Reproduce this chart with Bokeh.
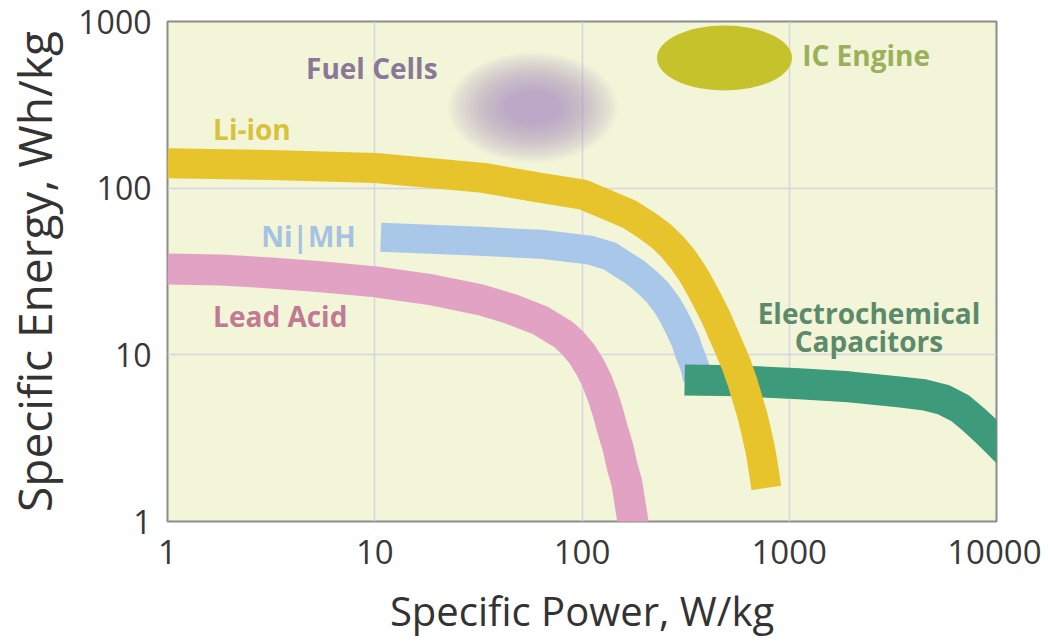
from bokeh.plotting import figure
from bokeh.models import FixedTicker, PrintfTickFormatter
from bokeh.core.properties import value
from bokeh.embed import file_html
from bokeh.resources import INLINE

# ---- data (Specific Power W/kg, Specific Energy Wh/kg) ----
li_power = [1, 3.16, 10.1, 33.4, 62.8, 101, 131.8, 170.1, 205.3, 242.4, 273.8, 305.9,
            337.9, 369.3, 403.5, 440.9, 476.4, 514.6, 556.2, 594.3, 628.1, 663.9,
            693.9, 725.4, 749.9, 775.2]
li_energy = [141, 137.7, 132.2, 115.3, 100.6, 91.4, 79.7, 69.5, 59.8, 51.4, 44.3, 37.5,
             31.4, 25.95, 21.1, 16.98, 13.6, 10.96, 8.69, 6.88, 5.46, 4.32,
             3.43, 2.68, 2.09, 1.59]

nimh_power = [10.7, 18.6, 32.3, 62.8, 109.3, 136.3, 155.7, 179.8, 205.3, 231.9, 256.3,
              276.9, 296.0, 316.2, 330.5, 349.4, 361.2]
nimh_energy = [50.7, 49.4, 48.0, 46.1, 42.5, 39.1, 35.1, 31.4, 27.4, 23.6, 20.0,
               17.0, 14.4, 12.06, 10.2, 8.57, 7.17]

lead_power = [1, 1.818, 3.16, 5.50, 10.1, 18.6, 32.3, 45.1, 62.8, 81.0, 90.5, 100,
              109.3, 118.1, 126.2, 133.4, 140.9, 149.0, 155.7, 164.6, 170.1, 175.9, 179.8]
lead_energy = [32.7, 32.3, 31.0, 29.4, 27.4, 24.6, 21.4, 18.9, 16.1, 13.3, 11.7, 10.1,
               8.45, 6.98, 5.61, 4.50, 3.52, 2.79, 2.18, 1.70, 1.31, 1.01, 0.837]

cap_power = [312.8, 574.9, 1117, 1943, 3379, 4457, 5562, 6713, 7752, 8854, 9890, 11420]
cap_energy = [7.07, 6.98, 6.70, 6.43, 6.00, 5.76, 5.38, 4.76, 4.09, 3.52, 3.07, 2.57]

fuel_cell_center = (58, 305)
ic_engine_center = (487, 604)

x_ticks = [1, 10, 100, 1000, 10000]
y_ticks = [1, 10, 100, 1000]

label_texts = ["Fuel Cells", "Li-ion", "IC Engine", "Ni|MH", "Lead Acid", "Electrochemical", "Capacitors"]
label_x = [9.68, 1.66, 1155, 8.1, 1.66, 2425, 2425]
label_y = [526, 225, 629, 51.4, 17.0, 17.9, 12.1]

FONT = "Open Sans"

p = figure(x_axis_type="log", y_axis_type="log",
           x_range=(1, 10000), y_range=(1, 1000),
           frame_width=829, frame_height=500,
           min_border_left=161, min_border_right=45,
           min_border_top=21, min_border_bottom=109,
           output_backend="svg", toolbar_location=None)

p.background_fill_color = "#f2f5d8"
p.border_fill_color = "white"
p.outline_line_color = "#8c8c8c"
p.outline_line_width = 2

p.xaxis.ticker = FixedTicker(ticks=x_ticks)
p.yaxis.ticker = FixedTicker(ticks=y_ticks)
p.xaxis.formatter = PrintfTickFormatter(format="%d")
p.yaxis.formatter = PrintfTickFormatter(format="%d")
p.grid.grid_line_color = "#d6d6e2"
p.grid.grid_line_width = 1.5

for ax in (p.xaxis, p.yaxis):
    ax.axis_line_color = None
    ax.major_tick_line_color = None
    ax.minor_tick_line_color = None
    ax.major_label_text_font = FONT
    ax.major_label_text_color = "#383838"
    ax.axis_label_text_font = FONT
    ax.axis_label_text_font_style = "normal"
    ax.axis_label_text_color = "#333333"

p.xaxis.major_label_text_font_size = "33px"
p.yaxis.major_label_text_font_size = "32px"
p.xaxis.axis_label = "Specific Power, W/kg"
p.yaxis.axis_label = "Specific Energy, Wh/kg"
p.xaxis.axis_label_text_font_size = "40px"
p.yaxis.axis_label_text_font_size = "46px"
p.xaxis.major_label_standoff = 12
p.yaxis.major_label_standoff = 10
p.xaxis.axis_label_standoff = 16
p.yaxis.axis_label_standoff = 10

# Fuel cells: blurred purple blob
n = 30
for i in range(n):
    t = i / (n - 1)
    w = 170 - t * 120
    h = 110 - t * 80
    p.ellipse(x=[fuel_cell_center[0]], y=[fuel_cell_center[1]], width=w, height=h,
              width_units="screen", height_units="screen",
              fill_color="#b48cc8", fill_alpha=0.034, line_color=None)

# IC engine: solid ellipse
p.ellipse(x=[ic_engine_center[0]], y=[ic_engine_center[1]], width=135, height=65,
          width_units="screen", height_units="screen",
          fill_color="#c6c22c", line_color=None)

# bands
p.line(lead_power, lead_energy, line_color="#e2a2c4", line_width=31,
       line_join="round", line_cap="butt")
p.line(nimh_power, nimh_energy, line_color="#a9c7e8", line_width=29,
       line_join="round", line_cap="butt")
p.line(cap_power, cap_energy, line_color="#3d9a7a", line_width=31,
       line_join="round", line_cap="butt")
p.line(li_power, li_energy, line_color="#e8c42c", line_width=30,
       line_join="round", line_cap="butt")

# labels
label_colors = ["#8a7898", "#d8c23c", "#9ab05a", "#a6c2e2", "#c07a96", "#5c8a6a", "#5c8a6a"]
label_align = ["center", "left", "left", "right", "left", "center", "center"]
for t, x, y, c, a in zip(label_texts, label_x, label_y, label_colors, label_align):
    p.text(x=[x], y=[y], text=[t], text_color=c, text_font=value(FONT),
           text_font_size="28px", text_font_style="bold",
           text_align=a, text_baseline="middle")

open("out.html", "w").write(file_html(p, INLINE))
